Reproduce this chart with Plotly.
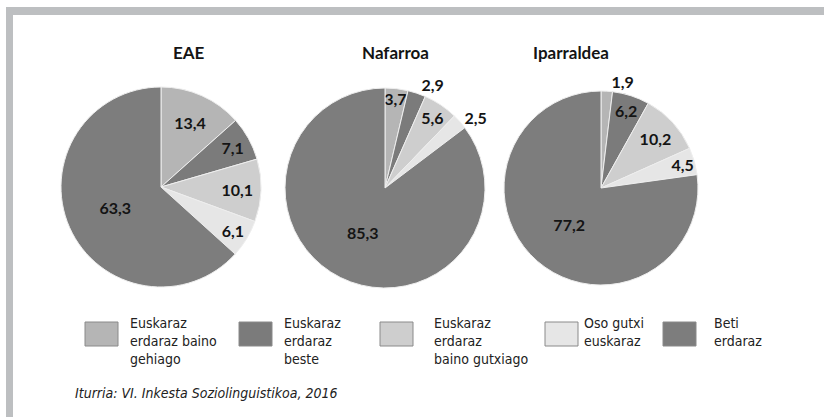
import plotly.graph_objects as go

# Data (percentages)
regions = ['EAE', 'Nafarroa', 'Iparraldea']
categories = ['Euskaraz<br>erdaraz baino<br>gehiago',
              'Euskaraz<br>erdaraz<br>beste',
              'Euskaraz<br>erdaraz<br>baino gutxiago',
              'Oso gutxi<br>euskaraz',
              'Beti<br>erdaraz']
eae_values = [13.4, 7.1, 10.1, 6.1, 63.3]
nafarroa_values = [3.7, 2.9, 5.6, 2.5, 85.3]
iparraldea_values = [1.9, 6.2, 10.2, 4.5, 77.2]
source_note = 'Iturria: VI. Inkesta Soziolinguistikoa, 2016'

# Styling
W, H = 824, 417
slice_colors = ['#b5b5b5', '#7b7b7b', '#cecece', '#e6e6e6', '#7d7d7d']
label_font = 'Lato, Liberation Sans, sans-serif'
narrow_font = 'Liberation Sans Narrow, Arial Narrow, DejaVu Sans Condensed, sans-serif'

# pie centres / radius in pixels, and where each label goes
pie_centres = [(161, 187, 100), (385, 188, 100), (601, 188, 97)]
text_positions = [
    ['inside', 'inside', 'inside', 'inside', 'inside'],
    ['inside', 'outside', 'inside', 'outside', 'inside'],
    ['outside', 'inside', 'inside', 'inside', 'inside'],
]


def px_x(x):
    return x / W


def px_y(y):
    return 1 - y / H


fig = go.Figure()

for name, vals, (cx, cy, r), tpos in zip(
        regions, [eae_values, nafarroa_values, iparraldea_values],
        pie_centres, text_positions):
    fig.add_trace(go.Pie(
        labels=categories,
        values=vals,
        text=[f'{v:.1f}'.replace('.', ',') for v in vals],
        texttemplate='<b>%{text}</b>',
        textposition=tpos,
        insidetextorientation='horizontal',
        textfont=dict(family=label_font, size=16, color='#141414'),
        sort=False,
        direction='clockwise',
        rotation=0,
        marker=dict(colors=slice_colors, line=dict(color='#eeeeee', width=1)),
        domain=dict(x=[px_x(cx - r), px_x(cx + r)], y=[px_y(cy + r), px_y(cy - r)]),
        showlegend=False,
        hoverinfo='label+value',
        name=name,
    ))
    # region title
    fig.add_annotation(x=px_x(cx + 10), y=px_y(40), xref='paper', yref='paper',
                       text=f'<b>{name}</b>', showarrow=False,
                       font=dict(family=label_font, size=17, color='#141414'))

# hand-drawn legend, one swatch + text per category
legend_box_x = [85, 239, 380, 545, 663]
legend_text_x = [128, 282, 432, 582, 712]
for cat, col, bx, tx in zip(categories, slice_colors, legend_box_x, legend_text_x):
    fig.add_shape(type='rect', xref='paper', yref='paper',
                  x0=px_x(bx), x1=px_x(bx + 33), y0=px_y(346), y1=px_y(322),
                  fillcolor=col, line=dict(color='#8a8a8a', width=1))
    fig.add_annotation(x=px_x(tx), y=px_y(313), xref='paper', yref='paper',
                       xanchor='left', yanchor='top', align='left',
                       text=cat, showarrow=False,
                       font=dict(family=narrow_font, size=14, color='#222222'))

fig.add_annotation(x=px_x(73), y=px_y(393), xref='paper', yref='paper',
                   xanchor='left', yanchor='middle', showarrow=False,
                   text=f'<i>{source_note}</i>',
                   font=dict(family=narrow_font, size=14, color='#222222'))

# grey frame on top and left
fig.add_shape(type='rect', xref='paper', yref='paper', layer='below',
              x0=px_x(6), x1=1, y0=px_y(15), y1=px_y(7),
              fillcolor='#bdbfc1', line=dict(width=0))
fig.add_shape(type='rect', xref='paper', yref='paper', layer='below',
              x0=px_x(6), x1=px_x(13), y0=0, y1=px_y(7),
              fillcolor='#bdbfc1', line=dict(width=0))

fig.update_layout(
    width=W, height=H,
    margin=dict(l=0, r=0, t=0, b=0),
    paper_bgcolor='white',
    plot_bgcolor='white',
    uniformtext=dict(minsize=16, mode='show'),
    showlegend=False,
)

# drop the browser's default body margin so the figure sits at the page corner
fig.write_html('out.html',
               config={'displayModeBar': False},
               post_script="document.body.style.margin='0';"
                           "document.body.style.overflow='hidden';")
